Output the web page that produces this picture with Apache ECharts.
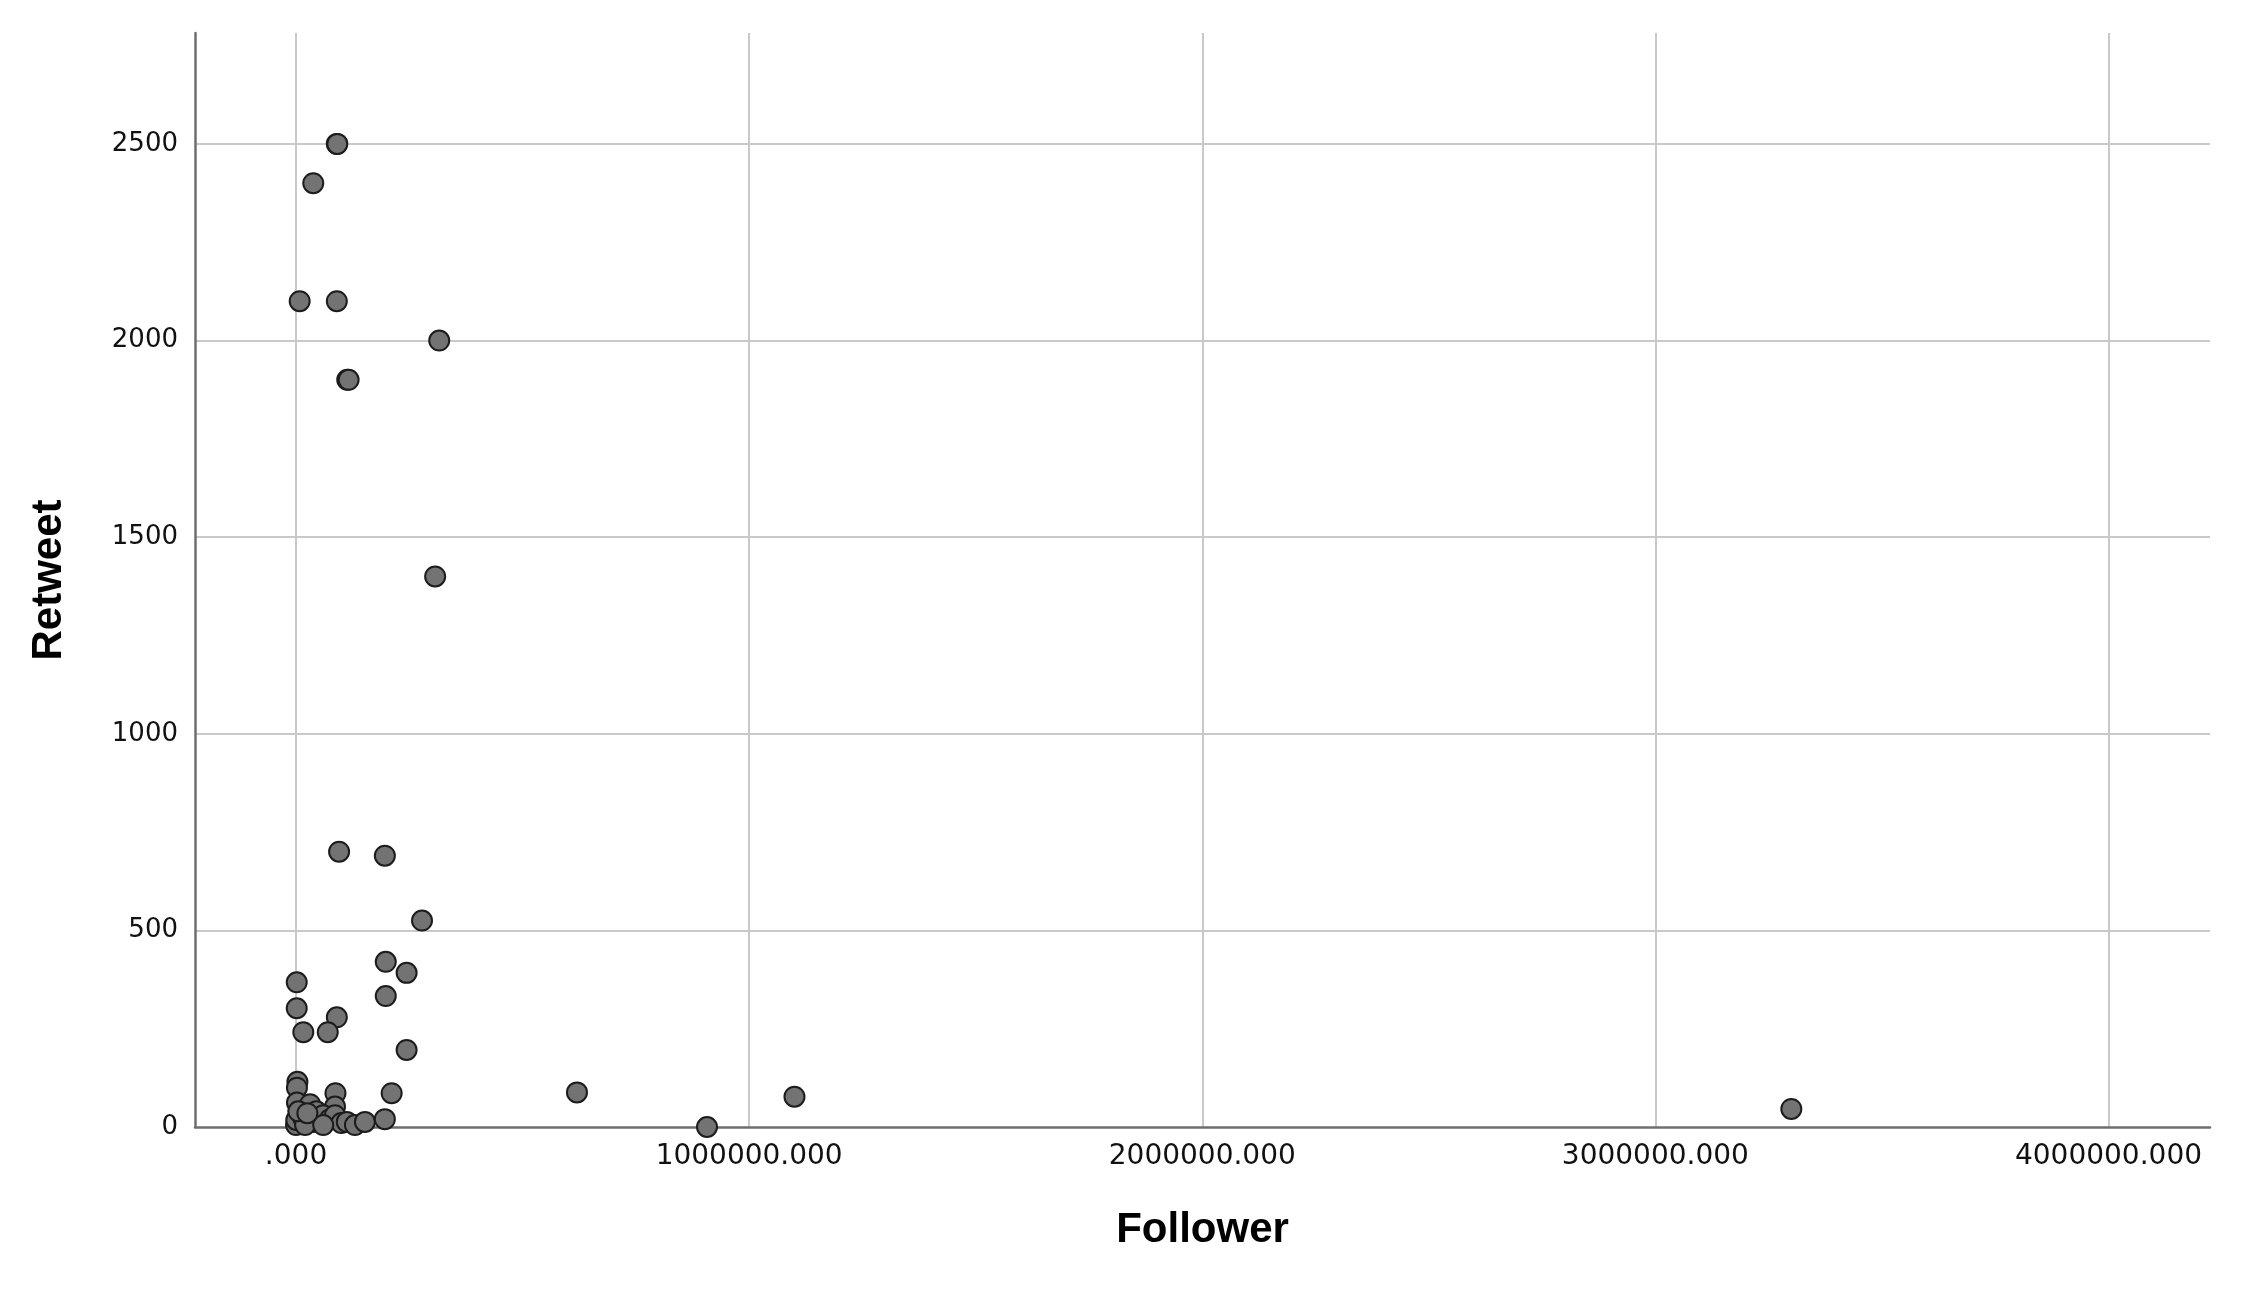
<!DOCTYPE html>
<html>
<head>
<meta charset="utf-8">
<title>Follower vs Retweet</title>
<script src="https://cdn.jsdelivr.net/npm/echarts@6/dist/echarts.min.js"></script>
<style>
    html, body { margin: 0; padding: 0; background: #fff; }
    #chart { width: 2257px; height: 1300px; }
</style>
</head>
<body>
<div id="chart"></div>
<script>
    // followers of each account and retweets of its post
    var follower = [
        90000, 91000, 38000, 8000, 90000, 316000, 113000, 116000, 307000,
        95000, 196000, 278000, 198000, 244000, 198000, 1500, 1500, 90000, 16000, 70000, 244000,
        3000, 2000, 2000, 31000, 87000, 86000, 211000, 620000, 1100000, 3300000, 907000,
        0, 500, 16000, 38000, 45000, 60000, 75000, 86000, 100000, 112000, 130000, 152000, 196000,
        20000, 60000, 5000, 25000
    ];
    var retweet = [
        2500, 2500, 2400, 2100, 2100, 2000, 1900, 1900, 1400,
        700, 690, 525, 420, 392, 333, 368, 302, 279, 241, 241, 196,
        115, 100, 62, 58, 86, 52, 86, 88, 77, 46, 0,
        5, 18, 22, 13, 40, 30, 20, 30, 10, 13, 5, 13, 20,
        5, 5, 40, 35
    ];
    var xRange = [-223000, 4224000];
    var yRange = [0, 2782];

    var points = [];
    for (var i = 0; i < follower.length; i++) {
        points.push([follower[i], retweet[i]]);
    }

    var myChart = echarts.init(document.getElementById('chart'));
    var options = {
        backgroundColor: '#ffffff',
        animation: false,
        grid: {
            left: 195,
            right: 47,
            top: 33,
            bottom: 173
        },
        xAxis: {
            type: 'value',
            min: xRange[0],
            max: xRange[1],
            splitNumber: 4,
            name: 'Follower',
            nameLocation: 'middle',
            nameGap: 82,
            nameTextStyle: {
                fontFamily: 'Liberation Sans',
                fontWeight: 'bold',
                fontSize: 42,
                color: '#000'
            },
            axisLine: { onZero: false, lineStyle: { color: '#6e6e6e', width: 2.5 } },
            axisTick: { show: false },
            axisLabel: {
                showMinLabel: false,
                showMaxLabel: false,
                margin: 16,
                fontFamily: 'DejaVu Sans',
                fontSize: 28,
                color: '#111',
                formatter: function (v) {
                    return v === 0 ? '.000' : v.toFixed(3);
                }
            },
            splitLine: {
                show: true,
                showMinLine: false,
                showMaxLine: false,
                lineStyle: { color: '#c9c9c9', width: 2 }
            }
        },
        yAxis: {
            type: 'value',
            min: yRange[0],
            max: yRange[1],
            interval: 500,
            name: 'Retweet',
            nameLocation: 'middle',
            nameRotate: 90,
            nameGap: 125,
            nameTextStyle: {
                fontFamily: 'Liberation Sans',
                fontWeight: 'bold',
                fontSize: 42,
                color: '#000'
            },
            axisLine: { show: true, onZero: false, lineStyle: { color: '#6e6e6e', width: 2.5 } },
            axisTick: { show: false },
            axisLabel: {
                showMaxLabel: false,
                margin: 17,
                fontFamily: 'DejaVu Sans',
                fontSize: 26,
                color: '#111',
                formatter: function (v) {
                    return String(v);
                }
            },
            splitLine: {
                show: true,
                showMinLine: false,
                showMaxLine: false,
                lineStyle: { color: '#c9c9c9', width: 2 }
            }
        },
        series: [{
            type: 'scatter',
            symbol: 'circle',
            symbolSize: 20,
            itemStyle: {
                color: '#737373',
                borderColor: '#1c1c1c',
                borderWidth: 2,
                opacity: 1
            },
            data: points
        }]
    };
    myChart.setOption(options);
</script>
</body>
</html>
